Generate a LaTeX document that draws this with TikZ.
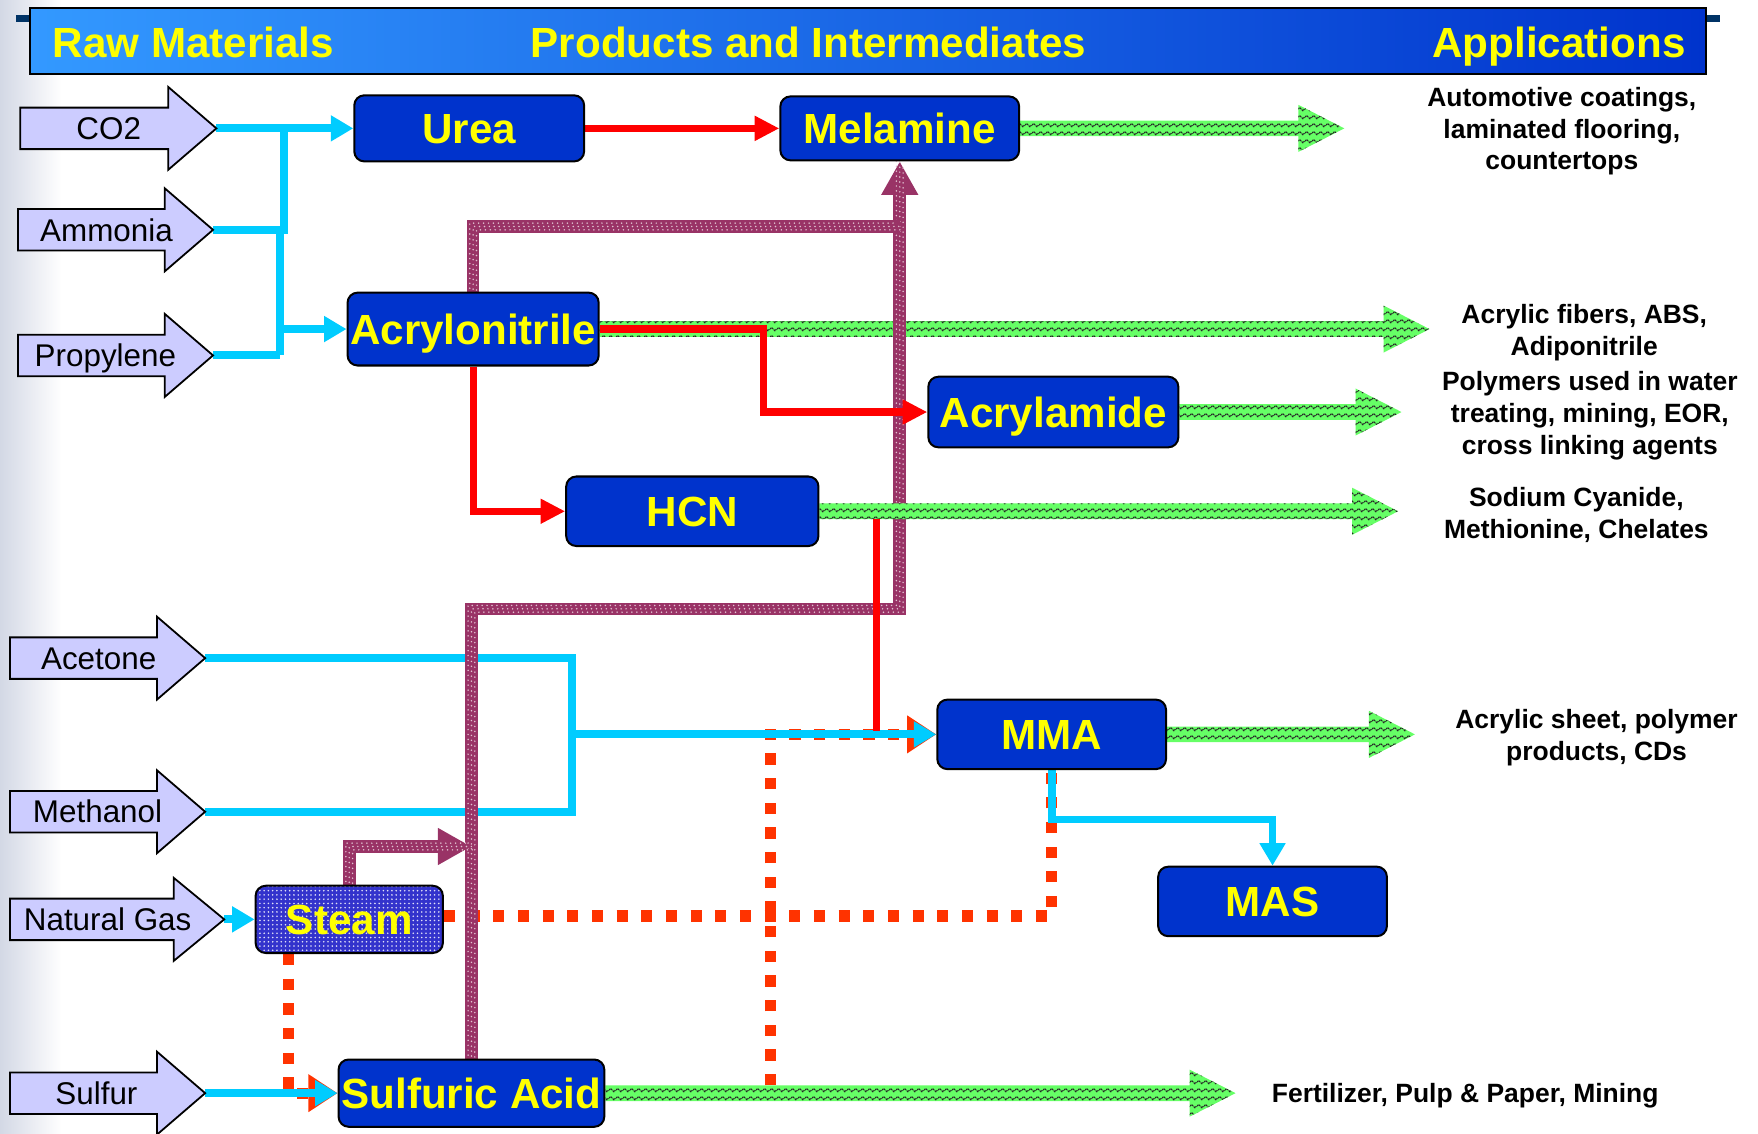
\documentclass[tikz,border=0pt]{standalone}
\usepackage{fontspec}
\setmainfont{Liberation Sans}
\usetikzlibrary{arrows.meta,patterns,calc}

\definecolor{lav}{HTML}{CCCCFF}
\definecolor{prodblue}{HTML}{0033CC}
\definecolor{txtyellow}{HTML}{FFFF00}
\definecolor{flowcyan}{HTML}{00CCFF}
\definecolor{flowred}{HTML}{FF0000}
\definecolor{dotred}{HTML}{FF3300}
\definecolor{plum}{HTML}{993366}
\definecolor{leafgreen}{HTML}{66FF66}
\definecolor{steamblue}{HTML}{3333CC}
\definecolor{barleft}{HTML}{3399FF}
\definecolor{barright}{HTML}{0033CC}
\definecolor{navy}{HTML}{003366}
\definecolor{edgegray}{HTML}{D3D8E5}

\pgfdeclarepatternformonly{wavy}{\pgfpoint{0pt}{0pt}}{\pgfpoint{3.2pt}{3.5pt}}{\pgfpoint{3.2pt}{3.5pt}}{%
  \pgfsetlinewidth{0.5pt}%
  \pgfsetdash{{0.9pt}{0.35pt}}{0pt}%
  \pgfpathmoveto{\pgfpoint{0pt}{1.75pt}}%
  \pgfpathcurveto{\pgfpoint{0.5pt}{2.75pt}}{\pgfpoint{1.1pt}{2.75pt}}{\pgfpoint{1.6pt}{1.75pt}}%
  \pgfpathcurveto{\pgfpoint{2.1pt}{0.75pt}}{\pgfpoint{2.7pt}{0.75pt}}{\pgfpoint{3.2pt}{1.75pt}}%
  \pgfusepath{stroke}}
\pgfdeclarepatternformonly{finedots}{\pgfpoint{-0.95pt}{-0.95pt}}{\pgfpoint{0.95pt}{0.95pt}}{\pgfpoint{1.9pt}{1.9pt}}{%
  \pgfpathcircle{\pgfpointorigin}{0.4pt}\pgfusepath{fill}}

\pgfdeclarelayer{back}
\pgfdeclarelayer{conn}
\pgfsetlayers{back,conn,main}

\tikzset{
  rawshape/.style={draw=black, line width=0.8pt, fill=lav, line join=miter},
  rawtext/.style={font=\fontsize{14}{16}\selectfont, inner sep=0pt, text height=10pt, text depth=0pt},
  prodbox/.style={draw=black, line width=0.9pt, fill=prodblue, rounded corners=4.5pt, text=txtyellow,
    font=\bfseries\fontsize{18.8}{21}\selectfont, inner sep=0pt, text height=13.5pt, text depth=0pt},
  steambox/.style={prodbox, fill=none, preaction={fill=steamblue}, pattern=finedots, pattern color=white!85!steamblue},
  apptext/.style={font=\bfseries\fontsize{11.8}{14.25}\selectfont, align=center, inner sep=0pt},
  headtext/.style={font=\bfseries\fontsize{18.8}{21}\selectfont, text=txtyellow, inner sep=0pt, anchor=base},
  cyanflow/.style={draw=flowcyan, line width=3.5pt},
  cyanarrow/.style={cyanflow, -{Triangle[length=10pt,width=11pt]}},
  redflow/.style={draw=flowred, line width=3.2pt},
  redarrow/.style={redflow, -{Triangle[length=11pt,width=10.5pt]}},
  dotflow/.style={draw=dotred, line width=5pt, dash pattern=on 5pt off 6pt},
  dotarrow/.style={dotflow, -{Triangle[length=13pt,width=16pt]}},
  plumflow/.style={draw=plum, line width=5.6pt},
  plumarrow/.style={plumflow, -{Triangle[length=15pt,width=15.5pt]}},
  plumdots/.style={draw=white!70!plum, line width=0.75pt, line cap=round, dash pattern=on 0pt off 2.2pt},
  greenbody/.style={preaction={fill=leafgreen}, pattern=wavy, pattern color=black!85},
}

% raw material block arrow: name, x0, y, xb (head base), xt (tip), text, text x
\newcommand\rawarrow[7]{%
  \draw[rawshape] (#2,#3-18.5) -- (#4,#3-18.5) -- (#4,#3-37) -- (#5,#3) -- (#4,#3+37) -- (#4,#3+18.5) -- (#2,#3+18.5) -- cycle;
  \node[rawtext] (#1) at (#7,#3) {#6};
  \coordinate (#1tip) at (#5,#3);}
% green product flow arrow: start anchor, tip coordinate
\newcommand\greenflow[2]{%
  \path[greenbody] ($(#1)+(0,-7)$) -- ($(#2)+(-41,-7)$) -- ($(#2)+(-41,-21)$) -- (#2)
    -- ($(#2)+(-41,21)$) -- ($(#2)+(-41,7)$) -- ($(#1)+(0,7)$) -- cycle;}
% textured plum connector
\newcommand\plumpath[2]{%
  \draw[#1] #2;
  \draw[plumdots, transform canvas={shift={(3,3)}}] #2;
  \draw[plumdots, dash phase=1.1pt] #2;
  \draw[plumdots, transform canvas={shift={(-3,-3)}}] #2;}

\begin{document}
\begin{tikzpicture}[x=0.5pt, y=-0.5pt]
\useasboundingbox (0,0) rectangle (1568,1011);

\begin{pgfonlayer}{back}
  \shade[left color=edgegray, right color=white] (0,0) rectangle (55,1011);
\end{pgfonlayer}

% header bar
\fill[navy] (14,13) rectangle (27,20);
\fill[navy] (1522,13) rectangle (1534,20);
\shade[left color=barleft, right color=barright] (27,7) rectangle (1522,66);
\draw[black, line width=0.9pt] (27,7) rectangle (1522,66);
\node[headtext] (hdraw) at (172.5,51.5) {Raw Materials};
\node[headtext] (hdprod) at (721,51.5) {Products and Intermediates};
\node[headtext] (hdapp) at (1390.5,51.5) {Applications};

% raw materials
\rawarrow{co2}{18}{114.5}{150}{193}{CO2}{97}
\rawarrow{ammonia}{16}{205}{147}{190}{Ammonia}{95}
\rawarrow{propylene}{16}{317}{147}{190}{Propylene}{94}
\rawarrow{acetone}{9}{587}{140}{183}{Acetone}{88}
\rawarrow{methanol}{9}{724}{140}{183}{Methanol}{87}
\rawarrow{natgas}{9}{820}{155}{200}{Natural Gas}{96}
\rawarrow{sulfur}{9}{975}{140}{183}{Sulfur}{86}

% products and intermediates
\node[prodbox, minimum width=102.5pt, minimum height=29.5pt] (urea) at (418.5,114.5) {Urea};
\node[prodbox, minimum width=106.5pt, minimum height=28.5pt] (melamine) at (802.5,114.5) {Melamine};
\node[prodbox, minimum width=112pt, minimum height=32.5pt] (acrylo) at (422,293.5) {Acrylonitrile};
\node[prodbox, minimum width=111.5pt, minimum height=31.5pt] (acrylamide) at (939.5,367.5) {Acrylamide};
\node[prodbox, minimum width=112.5pt, minimum height=31pt] (hcn) at (617.5,456) {HCN};
\node[prodbox, minimum width=102pt, minimum height=31pt] (mma) at (938,655) {MMA};
\node[prodbox, minimum width=102pt, minimum height=31pt] (mas) at (1135,804) {MAS};
\node[steambox, minimum width=83.5pt, minimum height=30pt] (steam) at (311.5,820) {Steam};
\node[prodbox, minimum width=118.5pt, minimum height=30pt] (sulfuric) at (420.5,975) {Sulfuric Acid};

% applications
\node[apptext] (app1) at (1393,117) {Automotive coatings,\\laminated flooring,\\countertops};
\node[apptext] (app2) at (1413,297) {Acrylic fibers, ABS,\\Adiponitrile};
\node[apptext] (app3) at (1418,371) {Polymers used in water\\treating, mining, EOR,\\cross linking agents};
\node[apptext] (app4) at (1406,459) {Sodium Cyanide,\\Methionine, Chelates};
\node[apptext] (app5) at (1424,658) {Acrylic sheet, polymer\\products, CDs};
\node[apptext, anchor=west] (app6) at (1134,977) {Fertilizer, Pulp \& Paper, Mining};

% connector coordinates
\coordinate (melTip) at (1199,114.5);
\coordinate (acrTip) at (1275,293.5);
\coordinate (amdTip) at (1250,367.5);
\coordinate (hcnTip) at (1247,456);
\coordinate (mmaTip) at (1262,655);
\coordinate (sulTip) at (1102,975);
\coordinate (jA) at (253,114.5);
\coordinate (jB) at (249.5,317);
\coordinate (jC) at (249.5,293.5);
\coordinate (jD) at (510,655);
\coordinate (jE) at (681,293.5);
\coordinate (jF) at (782,463);
\coordinate (jG) at (782,652);
\coordinate (jH) at (802.5,543);
\coordinate (jI) at (802.5,202);
\coordinate (jJ) at (420.5,755);
\coordinate (jK) at ([xshift=15pt]steam.south west);
\coordinate (jL) at (687,968);

\begin{pgfonlayer}{conn}
  % green flows to applications
  \greenflow{melamine.east}{melTip}
  \greenflow{acrylo.east}{acrTip}
  \greenflow{acrylamide.east}{amdTip}
  \greenflow{mma.east}{mmaTip}
  \greenflow{sulfuric.east}{sulTip}
  % steam (dotted)
  \draw[dotflow] ([yshift=1.5pt]steam.east) -| (mma.south);
  \draw[dotarrow] (jK) |- (sulfuric.west);
  \draw[dotarrow] (jL) |- (mma.west);
  % raw material feeds (cyan)
  \draw[cyanarrow] (co2tip) -- (urea.west);
  \draw[cyanflow] (ammoniatip) -| (jA);
  \draw[cyanflow] (ammoniatip) -| (jB);
  \draw[cyanflow] (propylenetip) -- (jB);
  \draw[cyanarrow] (jC) -- (acrylo.west);
  \draw[cyanflow] (acetonetip) -| (jD);
  \draw[cyanflow] (methanoltip) -| (jD);
  \draw[cyanarrow] (jD) -- (mma.west);
  \draw[cyanarrow] (natgastip) -- (steam.west);
  \draw[cyanarrow] (sulfurtip) -- (sulfuric.west);
  \draw[cyanarrow] (mma.south) -- ++(0,44) -| (mas.north);
  % plum textured flows
  \plumpath{plumarrow}{(sulfuric.north) |- (jH) -- (melamine.south)}
  \plumpath{plumflow}{(acrylo.north) |- (jI)}
  \plumpath{plumarrow}{(steam.north) |- (jJ)}
  % HCN green flow over plum
  \greenflow{hcn.east}{hcnTip}
  % red flows
  \draw[redarrow] (urea.east) -- (melamine.west);
  \draw[redarrow] (acrylo.east) -- (jE) |- (acrylamide.west);
  \draw[redarrow] (acrylo.south) |- (hcn.west);
  \draw[redflow] (jF) -- (jG);
\end{pgfonlayer}
\end{tikzpicture}
\end{document}
